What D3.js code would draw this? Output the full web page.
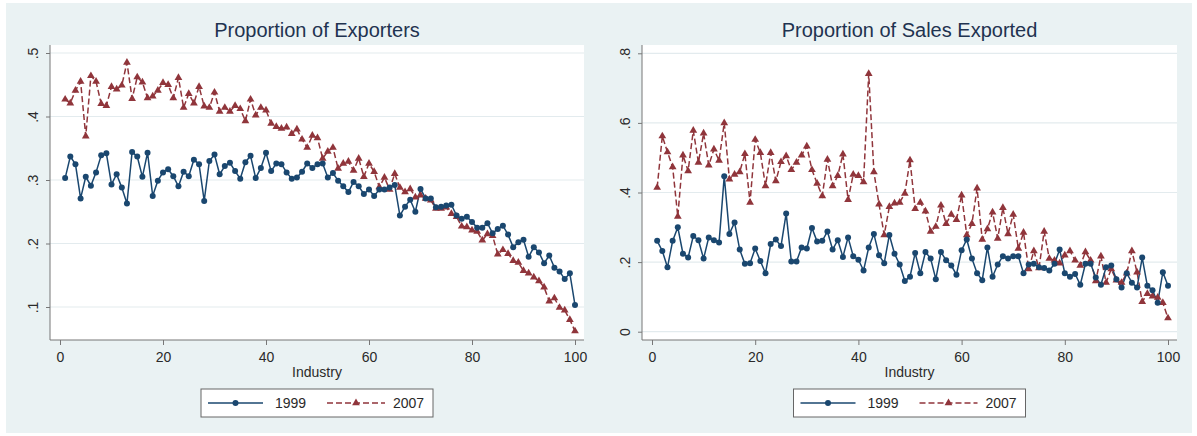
<!DOCTYPE html>
<html>
<head>
<meta charset="utf-8">
<script src="https://cdn.jsdelivr.net/npm/d3@7"></script>
<style>
  html, body { margin: 0; padding: 0; background: #ffffff; }
  svg text { font-family: "Liberation Sans", Arial, sans-serif; }
</style>
</head>
<body>
<div id="chart"></div>
<script>
// Industry index on the x axis (1..100).
var industries = d3.range(1, 101);

var seriesNames = ['1999', '2007'];

// Proportion of exporters.
var exporters1999 = [
  0.303, 0.337, 0.325, 0.271, 0.305, 0.291, 0.312, 0.339, 0.342, 0.293,
  0.309, 0.288, 0.263, 0.344, 0.337, 0.305, 0.343, 0.275, 0.299, 0.312,
  0.317, 0.306, 0.290, 0.313, 0.306, 0.332, 0.325, 0.267, 0.330, 0.340,
  0.309, 0.322, 0.327, 0.314, 0.302, 0.328, 0.338, 0.303, 0.319, 0.343,
  0.314, 0.326, 0.325, 0.312, 0.302, 0.304, 0.313, 0.326, 0.319, 0.325,
  0.326, 0.304, 0.311, 0.299, 0.290, 0.281, 0.297, 0.290, 0.278, 0.285,
  0.275, 0.285, 0.285, 0.288, 0.292, 0.244, 0.258, 0.269, 0.250, 0.286,
  0.271, 0.271, 0.257, 0.258, 0.260, 0.261, 0.244, 0.239, 0.242, 0.234,
  0.225, 0.225, 0.232, 0.216, 0.223, 0.228, 0.214, 0.194, 0.202, 0.206,
  0.179, 0.194, 0.186, 0.169, 0.181, 0.162, 0.156, 0.144, 0.153, 0.103
];
var exporters2007 = [
  0.427, 0.421, 0.441, 0.455, 0.369, 0.464, 0.455, 0.420, 0.417, 0.447,
  0.443, 0.449, 0.485, 0.428, 0.462, 0.454, 0.429, 0.432, 0.441, 0.453,
  0.450, 0.429, 0.461, 0.414, 0.436, 0.421, 0.447, 0.416, 0.414, 0.438,
  0.408, 0.414, 0.408, 0.417, 0.412, 0.393, 0.427, 0.402, 0.414, 0.410,
  0.389, 0.384, 0.381, 0.383, 0.373, 0.380, 0.364, 0.351, 0.370, 0.366,
  0.334, 0.345, 0.351, 0.318, 0.326, 0.329, 0.315, 0.334, 0.305, 0.326,
  0.313, 0.289, 0.304, 0.285, 0.310, 0.288, 0.281, 0.286, 0.273, 0.276,
  0.271, 0.268, 0.255, 0.255, 0.257, 0.247, 0.242, 0.227, 0.226, 0.221,
  0.219, 0.205, 0.215, 0.212, 0.183, 0.190, 0.184, 0.173, 0.170, 0.157,
  0.153, 0.147, 0.141, 0.131, 0.109, 0.114, 0.099, 0.095, 0.080, 0.062
];

// Proportion of sales exported.
var sales1999 = [
  0.261, 0.232, 0.185, 0.261, 0.300, 0.224, 0.213, 0.275, 0.263, 0.210,
  0.271, 0.263, 0.256, 0.447, 0.281, 0.314, 0.236, 0.195, 0.197, 0.239,
  0.203, 0.168, 0.252, 0.265, 0.246, 0.340, 0.202, 0.202, 0.242, 0.239,
  0.298, 0.259, 0.261, 0.288, 0.236, 0.263, 0.215, 0.271, 0.217, 0.207,
  0.176, 0.242, 0.281, 0.220, 0.197, 0.278, 0.224, 0.193, 0.146, 0.158,
  0.226, 0.168, 0.229, 0.210, 0.151, 0.229, 0.205, 0.190, 0.164, 0.234,
  0.265, 0.210, 0.168, 0.148, 0.242, 0.158, 0.193, 0.217, 0.210, 0.217,
  0.217, 0.168, 0.193, 0.195, 0.185, 0.183, 0.176, 0.195, 0.236, 0.168,
  0.158, 0.166, 0.135, 0.195, 0.195, 0.156, 0.135, 0.185, 0.190, 0.151,
  0.127, 0.168, 0.141, 0.127, 0.213, 0.132, 0.119, 0.083, 0.171, 0.132
];
var sales2007 = [
  0.414, 0.562, 0.516, 0.473, 0.331, 0.507, 0.462, 0.578, 0.486, 0.570,
  0.478, 0.524, 0.492, 0.600, 0.438, 0.452, 0.459, 0.511, 0.371, 0.552,
  0.514, 0.419, 0.514, 0.433, 0.488, 0.505, 0.465, 0.486, 0.507, 0.533,
  0.465, 0.426, 0.390, 0.495, 0.419, 0.448, 0.510, 0.379, 0.452, 0.448,
  0.430, 0.741, 0.459, 0.366, 0.278, 0.359, 0.369, 0.371, 0.397, 0.493,
  0.353, 0.371, 0.346, 0.288, 0.302, 0.363, 0.310, 0.337, 0.322, 0.392,
  0.278, 0.310, 0.412, 0.265, 0.295, 0.343, 0.268, 0.356, 0.281, 0.337,
  0.239, 0.285, 0.180, 0.232, 0.183, 0.288, 0.210, 0.205, 0.197, 0.220,
  0.232, 0.205, 0.190, 0.229, 0.205, 0.146, 0.217, 0.141, 0.180, 0.148,
  0.141, 0.168, 0.232, 0.171, 0.086, 0.109, 0.102, 0.098, 0.083, 0.039
];

// Axis ticks.
var xTicks = [0, 20, 40, 60, 80, 100];
var exportersTicks = [0.1, 0.2, 0.3, 0.4, 0.5];
var exportersTickLabels = ['.1', '.2', '.3', '.4', '.5'];
var salesTicks = [0, 0.2, 0.4, 0.6, 0.8];
var salesTickLabels = ['0', '.2', '.4', '.6', '.8'];

var width = 1197;
var height = 436;

var colors = { '1999': '#1a476f', '2007': '#90353b' };

var svg = d3.select('#chart')
  .append('svg')
  .attr('width', width)
  .attr('height', height);

// Graph region background.
svg.append('rect')
  .attr('x', 6).attr('y', 3)
  .attr('width', 1186).attr('height', 430)
  .attr('fill', '#eaf2f3');

var panels = [
  {
    title: 'Proportion of Exporters',
    left: 50, right: 584,
    yDomain: [0.1, 0.5], yRange: [307, 53],
    ticks: exportersTicks, labels: exportersTickLabels,
    data: { '1999': exporters1999, '2007': exporters2007 }
  },
  {
    title: 'Proportion of Sales Exported',
    left: 642, right: 1177,
    yDomain: [0, 0.8], yRange: [331.7, 53.3],
    ticks: salesTicks, labels: salesTickLabels,
    data: { '1999': sales1999, '2007': sales2007 }
  }
];

var plotTop = 45;
var plotBottom = 340;

function drawPanel(p) {
  var g = svg.append('g');
  var cx = (p.left + p.right) / 2;

  var x = d3.scaleLinear().domain([0, 100]).range([p.left + 10, p.right - 9]);
  var y = d3.scaleLinear().domain(p.yDomain).range(p.yRange);

  // Plot region.
  g.append('rect')
    .attr('x', p.left).attr('y', plotTop)
    .attr('width', p.right - p.left).attr('height', plotBottom - plotTop)
    .attr('fill', '#ffffff');

  // Gridlines.
  g.selectAll('.grid')
    .data(p.ticks)
    .enter()
    .append('line')
    .attr('x1', p.left).attr('x2', p.right)
    .attr('y1', function(d) { return y(d); })
    .attr('y2', function(d) { return y(d); })
    .attr('stroke', '#e3ebee')
    .attr('stroke-width', 1.2);

  // Y axis with rotated labels.
  var yAxis = g.append('g')
    .attr('transform', 'translate(' + p.left + ',0)')
    .call(d3.axisLeft(y)
      .tickValues(p.ticks)
      .tickSize(4)
      .tickSizeOuter(0)
      .tickFormat(function(d, i) { return p.labels[i]; }));
  yAxis.select('.domain').remove();
  yAxis.append('line')
    .attr('x1', 0).attr('x2', 0)
    .attr('y1', plotTop).attr('y2', plotBottom)
    .attr('stroke', '#777');
  yAxis.selectAll('.tick line').attr('stroke', '#777');
  yAxis.selectAll('.tick text')
    .attr('x', 0).attr('y', -12).attr('dy', null)
    .attr('transform', 'rotate(-90)')
    .style('text-anchor', 'middle')
    .style('font-size', '14px')
    .attr('fill', '#2a2a2a');

  // X axis.
  var xAxis = g.append('g')
    .attr('transform', 'translate(0,' + plotBottom + ')')
    .call(d3.axisBottom(x).tickValues(xTicks).tickSize(5).tickSizeOuter(0));
  xAxis.select('.domain').remove();
  xAxis.append('line')
    .attr('x1', p.left).attr('x2', p.right)
    .attr('y1', 0).attr('y2', 0)
    .attr('stroke', '#777');
  xAxis.selectAll('.tick line').attr('stroke', '#777');
  xAxis.selectAll('.tick text')
    .attr('y', 12.5)
    .style('font-size', '14px')
    .attr('fill', '#2a2a2a');

  g.append('text')
    .attr('x', cx).attr('y', 377)
    .attr('text-anchor', 'middle')
    .style('font-size', '14px')
    .attr('fill', '#2a2a2a')
    .text('Industry');

  // Title.
  g.append('text')
    .attr('x', cx).attr('y', 37)
    .attr('text-anchor', 'middle')
    .style('font-size', '20px')
    .attr('fill', '#1f3350')
    .text(p.title);

  // Series lines and markers.
  var line = d3.line()
    .x(function(d, i) { return x(industries[i]); })
    .y(function(d) { return y(d); });

  g.append('path')
    .datum(p.data['2007'])
    .attr('d', line)
    .attr('fill', 'none')
    .attr('stroke', colors['2007'])
    .attr('stroke-width', 1.5)
    .attr('stroke-dasharray', '6,3');

  g.append('path')
    .datum(p.data['1999'])
    .attr('d', line)
    .attr('fill', 'none')
    .attr('stroke', colors['1999'])
    .attr('stroke-width', 1.5);

  var tri = d3.symbol().type(d3.symbolTriangle).size(26);
  g.selectAll('.m2007')
    .data(p.data['2007'])
    .enter()
    .append('path')
    .attr('d', tri)
    .attr('transform', function(d, i) { return 'translate(' + x(industries[i]) + ',' + y(d) + ')'; })
    .attr('fill', colors['2007']);

  g.selectAll('.m1999')
    .data(p.data['1999'])
    .enter()
    .append('circle')
    .attr('cx', function(d, i) { return x(industries[i]); })
    .attr('cy', function(d) { return y(d); })
    .attr('r', 3)
    .attr('fill', colors['1999']);

  // Legend.
  var lg = g.append('g').attr('transform', 'translate(' + cx + ',0)');
  lg.append('rect')
    .attr('x', -116).attr('y', 389)
    .attr('width', 232).attr('height', 28)
    .attr('fill', '#ffffff')
    .attr('stroke', '#666')
    .attr('stroke-width', 1);

  lg.append('line')
    .attr('x1', -109).attr('x2', -54)
    .attr('y1', 403).attr('y2', 403)
    .attr('stroke', colors['1999']).attr('stroke-width', 1.5);
  lg.append('circle')
    .attr('cx', -81.5).attr('cy', 403).attr('r', 3)
    .attr('fill', colors['1999']);
  lg.append('text')
    .attr('x', -42).attr('y', 408)
    .style('font-size', '14px')
    .attr('fill', '#2a2a2a')
    .text(seriesNames[0]);

  lg.append('line')
    .attr('x1', 10).attr('x2', 68)
    .attr('y1', 403).attr('y2', 403)
    .attr('stroke', colors['2007']).attr('stroke-width', 1.5)
    .attr('stroke-dasharray', '6,3');
  lg.append('path')
    .attr('d', tri)
    .attr('transform', 'translate(39,403)')
    .attr('fill', colors['2007']);
  lg.append('text')
    .attr('x', 76).attr('y', 408)
    .style('font-size', '14px')
    .attr('fill', '#2a2a2a')
    .text(seriesNames[1]);
}

panels.forEach(drawPanel);
</script>
</body>
</html>
